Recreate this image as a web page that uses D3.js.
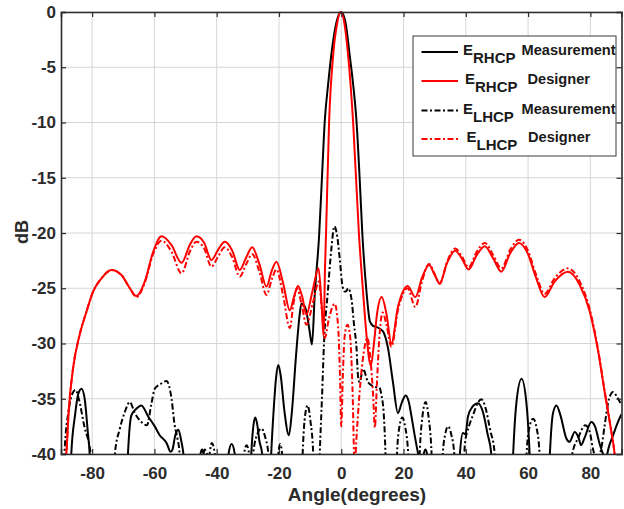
<!DOCTYPE html>
<html>
<head>
<meta charset="utf-8">
<script src="https://cdn.jsdelivr.net/npm/d3@7/dist/d3.min.js"></script>
<style>
  html, body { margin: 0; padding: 0; background: #fff; }
  svg { display: block; font-family: "Liberation Sans", Arial, sans-serif; font-weight: bold; }
</style>
</head>
<body>
<svg id="chart" width="624" height="509"></svg>
<script>
// Radiation pattern cuts: [angle in degrees, level in dB]
const rhcpMeasured = [
  [-90,-45],[-87.2,-45],[-86.7,-40],[-85.5,-36.5],[-84.5,-34.6],[-83.4,-34.1],[-82.4,-35],[-81.4,-38],[-80.8,-40],[-80.2,-45],
  [-69.2,-45],[-68.5,-40],[-67.4,-36.5],[-65.8,-35.9],[-64.2,-35.6],[-62,-36.6],[-59.9,-37.5],[-58.3,-38.3],[-56.1,-39],[-54.8,-39.8],
  [-54.2,-39.6],[-53.3,-38.3],[-52.3,-37.8],[-51.4,-38.8],[-50.6,-40.3],[-50,-45],
  [-45.6,-45],[-45.2,-40],[-44.7,-39.6],[-44.2,-40],[-43.8,-45],
  [-37,-45],[-36.2,-40],[-35.2,-39.1],[-34.2,-40],[-33.5,-45],
  [-29.6,-45],[-28.9,-40],[-28.2,-37.4],[-27.6,-36.7],[-27,-37.3],[-26.3,-38.8],[-25.4,-40],[-24.8,-45],
  [-23.2,-45],[-22.5,-40],[-21.7,-36],[-20.9,-33],[-20.2,-31.95],[-19.4,-33],[-18.3,-36],[-16.8,-38.3],[-15.8,-36],
  [-14.5,-31],[-13.4,-27.5],[-12.8,-26.4],[-11.8,-26.6],[-11.2,-27.1],[-10.2,-28.8],[-9.4,-30.1],[-8.5,-25.5],
  [-7.1,-20.2],[-6.2,-15],[-5.3,-9.9],[-4.2,-6.5],[-3.2,-3.9],[-1.6,-1],[0,0],[1.4,-1],[2.7,-3.9],[3.8,-6.5],
  [4.9,-9.9],[5.9,-15],[6.8,-20.2],[8.1,-25.3],[9.2,-28],[10.2,-28.4],[11.3,-28.5],[13.4,-28.9],[15,-30.4],
  [16.6,-33.5],[18.2,-36.3],[19.5,-35.3],[20.7,-34.7],[21.7,-35.3],[22.5,-36.5],[23.7,-38.5],[24.7,-40],[25.5,-41],
  [26.3,-40.2],[27,-39.6],[27.7,-40.2],[28.5,-45],
  [37.4,-45],[38.1,-40],[39.1,-38.1],[39.9,-38.2],[40.7,-36.6],[42.2,-35.7],[43.9,-35.4],[45.5,-36.2],[47,-38.2],[48.2,-40],[49,-45],
  [54.5,-45],[55.2,-40],[56.2,-35.5],[57.9,-33.2],[59.5,-35.5],[60.5,-40],[61.2,-45],
  [66.3,-45],[67,-40],[68,-36.3],[69.1,-35.6],[70.4,-36.5],[72.3,-38.6],[73.3,-38.9],[75,-38],[76.3,-38.6],[77,-39.2],
  [78.2,-38.5],[80.3,-37.1],[81.5,-37.5],[82.9,-39],[84.1,-40],[85,-40.3],[86,-39.3],[87.3,-38.3],[89,-37],[90,-36.4]
];

const rhcpDesigner = [
  [-89,-42],[-88.3,-40],[-87.5,-36],[-86.1,-32.2],[-84,-29.2],[-81.8,-27.1],[-79.7,-25.3],[-77,-24.1],[-73.8,-23.35],
  [-70.6,-23.8],[-67.9,-25],[-65.8,-25.7],[-63.1,-24.4],[-60.4,-21.7],[-57.7,-20.3],[-54.5,-21.1],[-51.3,-22.7],
  [-48.5,-21],[-46.5,-20.3],[-44,-20.9],[-41.7,-22.45],[-39.5,-21.5],[-37.4,-20.8],[-35,-21.6],[-32.6,-23.35],
  [-30.5,-22.2],[-28.6,-21.3],[-26.3,-22.8],[-24,-24.85],[-22.3,-23.4],[-20.8,-22.6],[-18.7,-24.5],[-16.5,-27],
  [-15.2,-25.8],[-13.9,-24.8],[-12.5,-25.8],[-11.2,-27.4],[-9.2,-25.2],[-7.3,-23.2],[-6.3,-26.5],[-5.7,-29.3],
  [-5.2,-23],[-4.9,-20.2],[-3.9,-9.9],[-2.6,-3.9],[-1.3,-1],[-0.2,0],[1,-1],[2.2,-3.9],[3.8,-9.9],[5.7,-20.2],
  [7,-25.3],[8.1,-29.2],[9.5,-32],[10.5,-30],[11.5,-27.3],[13,-25.8],[14.5,-27.3],[16.1,-30],[18.2,-26.7],
  [19.8,-25.3],[21.3,-24.8],[23.8,-25.8],[26,-24],[28.2,-22.9],[30,-23.8],[31.6,-24.55],[34,-22.7],[36.6,-21.6],
  [38.7,-22.3],[40.9,-23.3],[43.5,-22],[46.1,-21.2],[48.8,-22.3],[51.4,-23.5],[54.3,-21.8],[57.1,-20.9],
  [59.8,-21.8],[62.5,-24],[65.3,-25.8],[68.5,-24.4],[72.8,-23.5],[76.6,-24.7],[79.8,-27.1],[82.5,-30.7],
  [84.6,-34.4],[86.4,-37.4],[87.8,-40],[88.5,-42]
];

const lhcpMeasured = [
  [-90,-45],[-89.3,-45],[-88.9,-40],[-87.5,-36],[-86.3,-34.5],[-85.3,-34.2],[-84.3,-35],[-82.5,-37.5],[-80.5,-40],[-80,-45],
  [-73.3,-45],[-72.7,-40],[-71.1,-37.7],[-69.5,-36.2],[-67.9,-35.3],[-66.3,-36.3],[-64.2,-37.1],[-62.4,-37.4],
  [-61,-35.5],[-59.9,-34.1],[-58.2,-33.7],[-56.1,-33.4],[-54.5,-35],[-53.5,-37.4],[-52.6,-38.6],[-51.9,-40],[-51.3,-45],
  [-44.8,-45],[-44.3,-40],[-43.8,-39.6],[-43.1,-40],[-42.6,-40.3],[-41.6,-39],[-40.6,-40],[-40,-45],
  [-32,-45],[-31.2,-40],[-30.4,-39.2],[-29.6,-40],[-29,-45],
  [-28.9,-45],[-28.3,-40],[-26.8,-38.1],[-25.6,-37.7],[-24.5,-38.4],[-23.4,-40],[-22.8,-45],
  [-20.6,-45],[-20.2,-40],[-19.6,-39.1],[-19,-40],[-18.6,-45],
  [-13,-45],[-12.4,-40],[-11.8,-37],[-10.8,-35.6],[-9.9,-37],[-9,-40],[-8.5,-45],
  [-7.4,-45],[-6.9,-40],[-6.2,-35],[-5.5,-29.7],[-4.3,-25.3],[-3.2,-21.5],[-2.2,-19.4],[-1.2,-20.5],[-0.5,-22.3],
  [0.4,-24.8],[1.1,-25.3],[1.5,-25.3],[2.2,-25],[3.3,-26],[4.1,-28.3],[4.9,-30.4],[5.4,-33],[5.9,-33.5],
  [7,-32.3],[8.6,-33.5],[10.5,-33.9],[12.2,-34],[13,-34.8],[13.6,-36.2],[14.2,-40],[14.6,-45],
  [17.4,-45],[17.9,-40],[18.7,-37.5],[19.6,-36.7],[20.5,-37.5],[21.5,-40],[22,-45],
  [24.7,-45],[25.2,-40],[26,-36.8],[27.1,-35.3],[28.1,-36.8],[29,-40],[29.5,-45],
  [32.1,-45],[32.6,-40],[33.4,-38.2],[34.3,-37.5],[35.3,-38.2],[36.3,-40],[36.8,-45],
  [39,-45],[39.7,-39.1],[41,-37.5],[42.3,-36.5],[43.8,-35.4],[45,-35.05],[46.3,-35.8],[47.8,-37.8],[49.3,-40],[50,-45],
  [59,-45],[59.5,-40],[60.5,-37.5],[61.6,-36.8],[62.7,-37.6],[63.7,-40],[64.3,-45],
  [73.5,-45],[74.2,-40],[76,-38.6],[78.4,-37.4],[79.8,-38],[80.8,-39.5],[81.5,-40.2],[82.3,-40.5],[83.5,-39.5],
  [84.6,-37.4],[86,-35],[87.3,-34.4],[88.5,-34.8],[90,-35.6]
];

const lhcpDesigner = [
  [-89,-42],[-88.3,-40],[-87.5,-36],[-86.1,-32.2],[-84,-29.2],[-81.8,-27.1],[-79.7,-25.3],[-77,-24.1],[-73.8,-23.35],
  [-70.6,-23.8],[-67.9,-25],[-65.8,-25.8],[-63.1,-24.5],[-60.4,-21.9],[-57.7,-20.7],[-54.5,-21.7],[-51.3,-23.65],
  [-48.5,-21.6],[-46.5,-20.8],[-44,-21.4],[-41.7,-23.05],[-39.5,-22.1],[-37.4,-21.3],[-35,-22.2],[-32.6,-23.95],
  [-30.5,-22.8],[-28.6,-21.9],[-26.3,-23.5],[-24,-25.6],[-22.3,-24.2],[-20.8,-23.3],[-18.7,-25.6],[-16.5,-28.6],
  [-15.4,-26.5],[-14.2,-25],[-12.7,-26.5],[-11.2,-28.3],[-9,-26.2],[-7.2,-24.4],[-6.2,-27],[-5.3,-29.5],
  [-4,-27.8],[-2.1,-26.4],[-1,-28.5],[-0.4,-33],[0,-37.5],[0.5,-33],[1.1,-29.3],[2,-28.3],[2.9,-29.5],
  [3.6,-34],[4.3,-41],[5,-38],[5.9,-34.4],[6.9,-31.5],[8.4,-29.5],[9.4,-31.5],[10.2,-34.5],[10.8,-37.6],
  [11.4,-34],[12.2,-29.6],[13.3,-27.2],[14.6,-28.4],[16.1,-30.3],[18.2,-27],[19.8,-25.5],[21.3,-25],
  [23.8,-26.7],[26,-24.3],[28.2,-22.8],[30,-23.7],[31.6,-24.6],[34,-22.6],[36.6,-21.4],[38.7,-22.1],
  [40.9,-23.1],[43.5,-21.7],[46.1,-20.9],[48.8,-22],[51.4,-23.2],[54.3,-21.5],[57.1,-20.6],[59.8,-21.5],
  [62.5,-23.7],[65.3,-25.5],[68.5,-24.1],[72.8,-23.2],[76.6,-24.4],[79.8,-26.9],[82.5,-30.6],[84.6,-34.3],
  [86.4,-37.4],[87.8,-40],[88.5,-42]
];

const xTicks = [-80, -60, -40, -20, 0, 20, 40, 60, 80];
const yTicks = [0, -5, -10, -15, -20, -25, -30, -35, -40];

const legendItems = [
  { sub: "RHCP", label: "Measurement", color: "#000000", dash: null },
  { sub: "RHCP", label: "Designer", color: "#ff0000", dash: null },
  { sub: "LHCP", label: "Measurement", color: "#000000", dash: "6,2.5,2,2.5" },
  { sub: "LHCP", label: "Designer", color: "#ff0000", dash: "6,2.5,2,2.5" }
];

const svg = d3.select("#chart");
const plotL = 61, plotR = 621.5, plotT = 12, plotB = 454;
const x = d3.scaleLinear().domain([-90, 90]).range([plotL, plotR]);
const y = d3.scaleLinear().domain([-40, 0]).range([plotB, plotT]);
const axisColor = "#2b2b2b";

// grid
svg.append("g").selectAll("line").data(xTicks).join("line")
  .attr("x1", d => x(d)).attr("x2", d => x(d)).attr("y1", plotT).attr("y2", plotB)
  .attr("stroke", "#d6d6d6").attr("stroke-width", 1);
svg.append("g").selectAll("line").data(yTicks).join("line")
  .attr("y1", d => y(d)).attr("y2", d => y(d)).attr("x1", plotL).attr("x2", plotR)
  .attr("stroke", "#d6d6d6").attr("stroke-width", 1);

// clip for the curves
svg.append("clipPath").attr("id", "plotclip").append("rect")
  .attr("x", plotL).attr("y", plotT - 2).attr("width", plotR - plotL).attr("height", plotB - plotT + 2);

const line = d3.line().x(d => x(d[0])).y(d => y(d[1])).curve(d3.curveMonotoneX);
const curves = svg.append("g").attr("clip-path", "url(#plotclip)");
const series = [
  { data: rhcpMeasured, color: "#000000", dash: null },
  { data: lhcpMeasured, color: "#000000", dash: "6,2.5,2,2.5" },
  { data: lhcpDesigner, color: "#ff0000", dash: "6,2.5,2,2.5" },
  { data: rhcpDesigner, color: "#ff0000", dash: null }
];
series.forEach(s => {
  curves.append("path").datum(s.data)
    .attr("d", line).attr("fill", "none")
    .attr("stroke", s.color).attr("stroke-width", 2)
    .attr("stroke-dasharray", s.dash);
});

// axes with inward ticks
const fmt = d => String(d);
const gx = svg.append("g").attr("transform", `translate(0,${plotB})`)
  .call(d3.axisBottom(x).tickValues(xTicks).tickSize(-5).tickPadding(13).tickFormat(fmt));
const gy = svg.append("g").attr("transform", `translate(${plotL},0)`)
  .call(d3.axisLeft(y).tickValues(yTicks).tickSize(-5).tickPadding(5).tickFormat(fmt));
const gt = svg.append("g").attr("transform", `translate(0,${plotT})`)
  .call(d3.axisTop(x).tickValues(xTicks).tickSize(-5).tickFormat(""));
const gr = svg.append("g").attr("transform", `translate(${plotR},0)`)
  .call(d3.axisRight(y).tickValues(yTicks).tickSize(-5).tickFormat(""));
[gx, gy, gt, gr].forEach(g => {
  g.select(".domain").attr("stroke", axisColor).attr("stroke-width", 1.6);
  g.selectAll(".tick line").attr("stroke", axisColor).attr("stroke-width", 1.2);
  g.selectAll(".tick text").attr("fill", axisColor)
    .style("font-size", "17px").style("font-weight", "bold")
    .style("font-family", '"Liberation Sans", Arial, sans-serif');
});

// axis titles
svg.append("text").attr("x", 357).attr("y", 501).attr("text-anchor", "middle")
  .attr("fill", axisColor).style("font-size", "19px").text("Angle(degrees)");
svg.append("text").attr("transform", "translate(28,232) rotate(-90)").attr("text-anchor", "middle")
  .attr("fill", axisColor).style("font-size", "18px").text("dB");

// legend
const lg = svg.append("g");
lg.append("rect").attr("x", 413).attr("y", 36).attr("width", 203).attr("height", 120)
  .attr("fill", "#fff").attr("stroke", "#3a3a3a").attr("stroke-width", 1);
const rowY = [55, 84, 113.5, 142];
const labelX = [521.5, 527.5, 521.5, 528];
const eX = [463, 465, 463, 466.5];
legendItems.forEach((it, i) => {
  const by = rowY[i];
  lg.append("line").attr("x1", 421.5).attr("x2", 458).attr("y1", by - 3).attr("y2", by - 3)
    .attr("stroke", it.color).attr("stroke-width", 2).attr("stroke-dasharray", it.dash);
  const t = lg.append("text").attr("x", eX[i]).attr("y", by).attr("fill", "#1a1a1a").style("font-size", "15px");
  t.append("tspan").text("E");
  t.append("tspan").attr("dy", 8).style("font-size", "15px").text(it.sub);
  lg.append("text").attr("x", labelX[i]).attr("y", by).attr("fill", "#1a1a1a")
    .style("font-size", "14.6px").text(it.label);
});
</script>
</body>
</html>
